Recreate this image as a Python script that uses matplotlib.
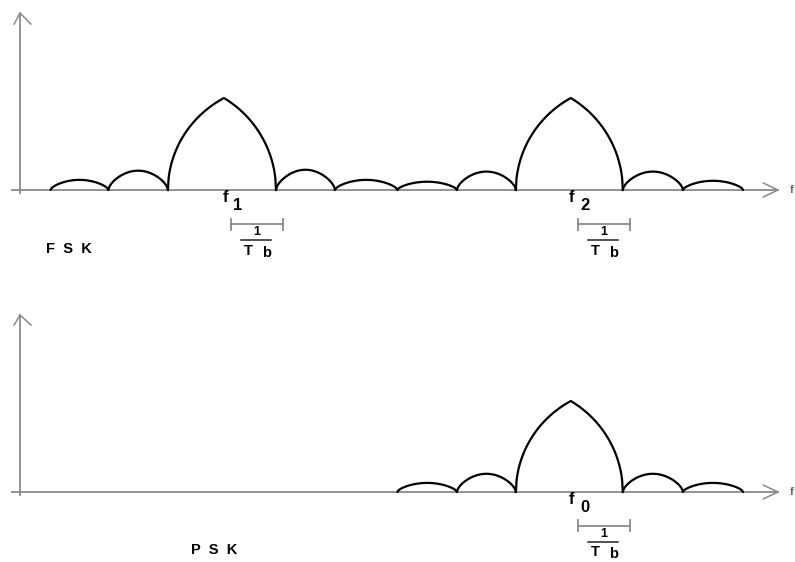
import numpy as np
from matplotlib import pyplot as plt

# frequencies in units of 1/Tb, amplitude normalised to main lobe
fsk_edges = [-3.0, -2.0, -0.97, 0.9, 1.92, 3.0, 4.03, 5.05, 6.9, 7.94, 8.98]
fsk_heights = [0.11, 0.21, 1.0, 0.22, 0.11, 0.09, 0.20, 1.0, 0.20, 0.10]
fsk_main = [False, False, True, False, False, False, False, True, False, False]
fsk_labels = ["1", "2"]
fsk_centers = [0.0, 6.0]

psk_edges = [3.0, 4.03, 5.05, 6.9, 7.94, 8.98]
psk_heights = [0.10, 0.20, 1.0, 0.20, 0.10]
psk_main = [False, False, True, False, False]
psk_labels = ["0"]
psk_centers = [6.0]

AXIS_COLOR = "#8a8a8a"
FONT = ["Liberation Sans", "DejaVu Sans"]


def side_lobe(ax, x0, x1, h):
    t = np.linspace(0, 1, 80)
    ax.plot(x0 + (x1 - x0) * t, h * np.sin(np.pi * t) ** 0.6, color="black", lw=1.6,
            clip_on=False, solid_capstyle="round")


def main_lobe(ax, x0, x1, pk, h):
    w = x1 - x0
    xl = np.linspace(x0, pk, 80)
    yl = h * np.sqrt(np.clip(1 - ((xl - x1) / w) ** 2, 0, None))
    yl *= h / yl[-1]
    xr = np.linspace(pk, x1, 80)
    yr = h * np.sqrt(np.clip(1 - ((xr - x0) / w) ** 2, 0, None))
    yr *= h / yr[0]
    ax.plot(np.r_[xl, xr], np.r_[yl, yr], color="black", lw=1.6, clip_on=False,
            solid_joinstyle="round")


def axes_arrows(ax, ytop, wing):
    ax.plot([-3.53, -3.53], [-0.035, ytop], color=AXIS_COLOR, lw=1.3, clip_on=False)
    ax.plot([-3.63, -3.53, -3.34], [ytop - wing, ytop, ytop - wing], color=AXIS_COLOR,
            lw=1.1, clip_on=False)
    ax.plot([-3.67, 9.585], [0, 0], color=AXIS_COLOR, lw=1.3, clip_on=False)
    ax.plot([9.33, 9.585, 9.33], [0.076, 0, -0.076], color=AXIS_COLOR, lw=1.1, clip_on=False)
    ax.text(9.86, 0.0, "f", fontsize=8, fontweight="bold", family=FONT,
            ha="right", va="center", color="#666666", clip_on=False)


def bracket(ax, c, yb, s):
    ax.plot([c + 0.12, c + 1.02], [yb, yb], color=AXIS_COLOR, lw=1.3)
    for xe in [c + 0.12, c + 1.02]:
        ax.plot([xe, xe], [yb - 0.06 * s, yb + 0.06 * s], color=AXIS_COLOR, lw=1.3)
    ax.text(c + 0.57, yb - 0.09 * s, "1", fontsize=9, fontweight="bold", family=FONT,
            ha="center", va="center")
    ax.plot([c + 0.3, c + 0.82], [yb - 0.175 * s, yb - 0.175 * s], color="#222222", lw=1.1)
    ax.text(c + 0.42, yb - 0.29 * s, "T", fontsize=10.5, fontweight="bold", family=FONT,
            ha="center", va="center")
    ax.text(c + 0.74, yb - 0.315 * s, "b", fontsize=10.5, fontweight="bold", family=FONT,
            ha="center", va="center")


def panel(ax, edges, heights, mains, centers, labels, ytop, wing, name, name_x):
    axes_arrows(ax, ytop, wing)
    for i, h in enumerate(heights):
        if mains[i]:
            pk = [c for c in centers if edges[i] < c < edges[i + 1]][0]
            main_lobe(ax, edges[i], edges[i + 1], pk, h)
        else:
            side_lobe(ax, edges[i], edges[i + 1], h)
    for c, lab in zip(centers, labels):
        ax.text(c + 0.02, -0.08, "f", fontsize=12, fontweight="bold", family=FONT,
                ha="center", va="center")
        ax.text(c + 0.24, -0.165, lab, fontsize=12, fontweight="bold", family=FONT,
                ha="center", va="center")
        bracket(ax, c, -0.37, 1.0)
    ax.text(name_x, -0.64, name, fontsize=10.5, fontweight="bold", family=FONT,
            ha="center", va="center")


fig = plt.figure(figsize=(7.95, 5.62), dpi=100)
fig.patch.set_facecolor("white")

# top panel: rows 0..281 px, baseline at row 190, 92 px per unit
ax1 = fig.add_axes([0, 281 / 562, 1, 281 / 562])
ax1.set_xlim(-3.875, 9.879)
ax1.set_ylim((190 - 281) / 92, 190 / 92)
ax1.axis("off")
panel(ax1, fsk_edges, fsk_heights, fsk_main, fsk_centers, fsk_labels,
      1.924, 0.12, "F  S  K", -2.68)

# bottom panel: rows 281..562 px, baseline at row 492, 91 px per unit
ax2 = fig.add_axes([0, 0, 1, 281 / 562])
ax2.set_xlim(-3.875, 9.879)
ax2.set_ylim((492 - 562) / 91, (492 - 281) / 91)
ax2.axis("off")
panel(ax2, psk_edges, psk_heights, psk_main, psk_centers, psk_labels,
      1.945, 0.11, "P  S  K", -0.17)

fig.savefig("out.png", dpi=100, facecolor="white")
